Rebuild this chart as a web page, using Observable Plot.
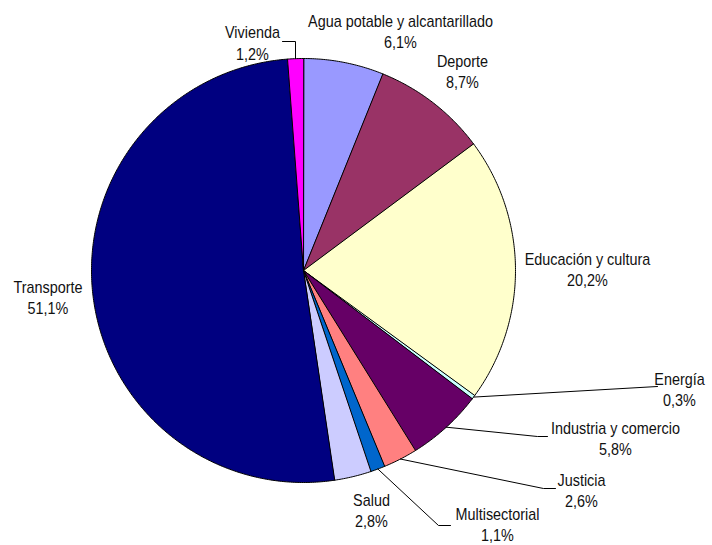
<!DOCTYPE html>
<html>
<head>
<meta charset="utf-8">
<script src="https://cdn.jsdelivr.net/npm/d3@7"></script>
<script src="https://cdn.jsdelivr.net/npm/@observablehq/plot@0.6"></script>
<style>
  html, body { margin: 0; padding: 0; background: #fff; }
  #chart svg { display: block; }
</style>
</head>
<body>
<div id="chart"></div>
<script>
// ---- Data ----
const sectores = [
  "Agua potable y alcantarillado", "Deporte", "Educación y cultura", "Energía",
  "Industria y comercio", "Justicia", "Multisectorial", "Salud", "Transporte", "Vivienda"
];
const porcentajes = [6.1, 8.7, 20.2, 0.3, 5.8, 2.6, 1.1, 2.8, 51.1, 1.2];
const colores = [
  "#9999FF", "#993366", "#FFFFCC", "#CCFFFF", "#660066",
  "#FF8080", "#0066CC", "#CCCCFF", "#000080", "#FF00FF"
];

// ---- Layout (pixels) ----
const W = 712, H = 545;
const cx = 303, cy = 270, R = 212;
// label block centres
const labelX = [400, 462, 587, 679, 615, 581, 497, 371, 47.5, 252];
const labelY = [30, 70, 268, 388, 437, 489, 523, 509, 296, 41.5];
// leader lines: [elbow, end] for labels that have them (null = none)
const leaderPts = [
  null, null, null,
  [[657, 386]],
  [[537, 436], [547, 436]],
  [[543, 488], [555, 488]],
  [[438, 525], [450, 525]],
  null, null,
  [[295, 41], [282, 41]]
];

// ---- Geometry through d3.pie ----
const arcs = d3.pie().sort(null).startAngle(0).endAngle(2 * Math.PI)(porcentajes);
const px = a => cx + R * Math.sin(a);
const py = a => cy - R * Math.cos(a);

const slicePts = [];
arcs.forEach((a, i) => {
  slicePts.push({name: sectores[i], color: colores[i], x: cx, y: cy});
  const n = Math.max(2, Math.ceil((a.endAngle - a.startAngle) / (Math.PI / 360)));
  for (let k = 0; k <= n; k++) {
    const t = a.startAngle + (a.endAngle - a.startAngle) * k / n;
    slicePts.push({name: sectores[i], color: colores[i], x: px(t), y: py(t)});
  }
});

const leaderData = [];
arcs.forEach((a, i) => {
  if (!leaderPts[i]) return;
  const mid = (a.startAngle + a.endAngle) / 2;
  leaderData.push({name: sectores[i], x: px(mid), y: py(mid)});
  leaderPts[i].forEach(([x, y]) => leaderData.push({name: sectores[i], x, y}));
});

const labels = sectores.map((s, i) => ({
  text: s + "\n" + porcentajes[i].toFixed(1).replace(".", ",") + "%",
  x: labelX[i], y: labelY[i]
}));

const chart = Plot.plot({
  width: W, height: H,
  margin: 0,
  x: {domain: [0, W], range: [0, W], axis: null},
  y: {domain: [0, H], range: [0, H], axis: null},
  color: {type: "identity"},
  style: {background: "#fff", fontFamily: "'Liberation Sans', Arial, sans-serif"},
  marks: [
    Plot.line(slicePts, {x: "x", y: "y", z: "name", fill: "color", stroke: "#000",
      strokeWidth: 1, curve: "linear-closed", strokeLinejoin: "round"}),
    Plot.line(leaderData, {x: "x", y: "y", z: "name", stroke: "#000", strokeWidth: 1}),
    Plot.text(labels, {x: "x", y: "y", text: "text", fontSize: 16, lineHeight: 1.35,
      fill: "#111", textAnchor: "middle", lineAnchor: "middle"})
  ]
});

// slightly condensed lettering, like the original
d3.select(chart).selectAll("text").each(function() {
  const t = this.getAttribute("transform");
  if (t && t.includes("translate")) this.setAttribute("transform", t + " scale(0.9,1)");
});

document.getElementById("chart").appendChild(chart);
</script>
</body>
</html>
